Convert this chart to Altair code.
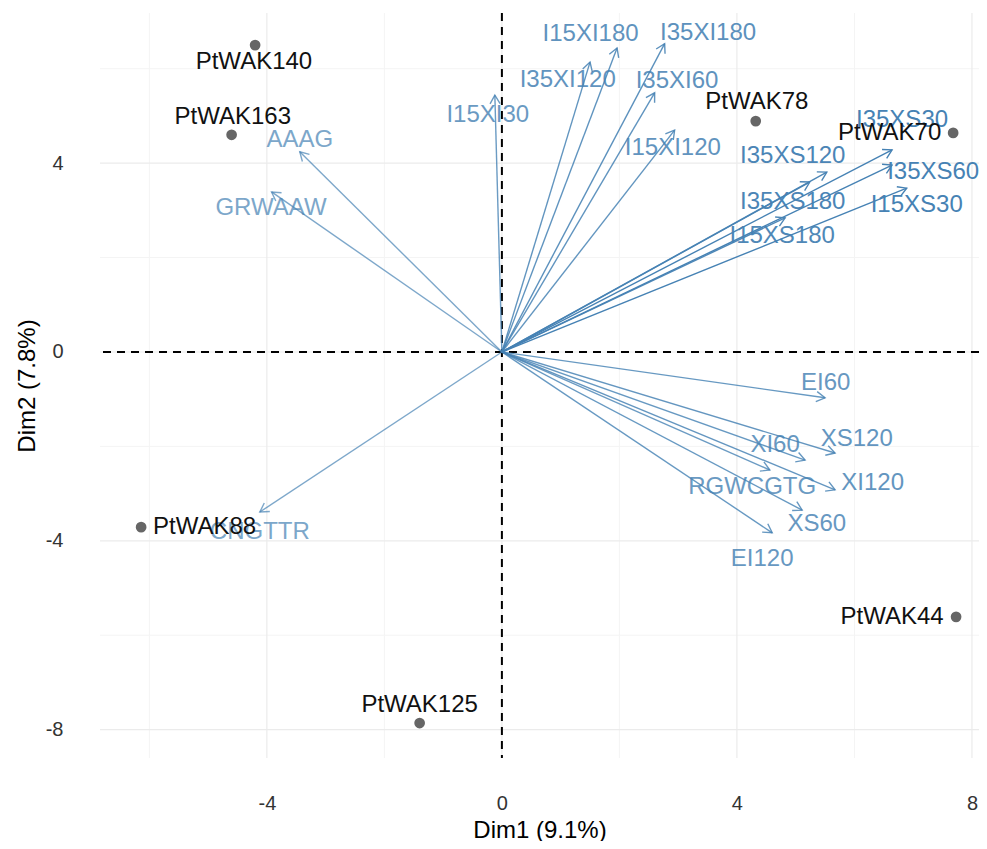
import math
import altair as alt
import pandas as pd

# ---------------- data ----------------
ind_names = ["PtWAK140", "PtWAK163", "PtWAK78", "PtWAK70", "PtWAK88", "PtWAK44", "PtWAK125"]
ind_x = [-4.20, -4.60, 4.32, 7.68, -6.14, 7.73, -1.40]
ind_y = [6.50, 4.60, 4.89, 4.64, -3.71, -5.61, -7.86]
ind_label_x = [-4.22, -4.58, 4.34, 6.60, -5.06, 6.64, -1.40]
ind_label_y = [6.14, 4.98, 5.30, 4.64, -3.71, -5.61, -7.48]

var_names = ["I15XI30", "I15XI180", "I35XI180", "I35XI120", "I35XI60", "I15XI120",
             "I35XS30", "I35XS60", "I35XS120", "I35XS180", "I15XS30", "I15XS180",
             "EI60", "XS120", "XI60", "XI120", "RGWCGTG", "XS60", "EI120",
             "AAAG", "GRWAAW", "CNGTTR"]
var_x = [-0.12, 1.96, 2.77, 1.50, 2.60, 2.94,
         6.64, 6.64, 5.53, 5.24, 6.89, 4.82,
         5.50, 5.67, 5.16, 5.67, 4.56, 5.11, 4.60,
         -3.44, -3.92, -4.12]
var_y = [5.44, 6.44, 6.53, 6.14, 5.49, 4.70,
         4.28, 3.96, 3.81, 3.60, 3.47, 2.84,
         -0.97, -2.14, -2.29, -2.92, -2.50, -3.35, -3.83,
         4.24, 3.39, -3.39]
var_label_x = [-0.24, 1.51, 3.51, 1.12, 2.98, 2.91,
               6.81, 7.34, 4.95, 4.95, 7.06, 4.77,
               5.51, 6.04, 4.65, 6.31, 4.26, 5.36, 4.43,
               -3.44, -3.93, -4.12]
var_label_y = [5.02, 6.74, 6.75, 5.76, 5.75, 4.32,
               4.92, 3.81, 4.15, 3.18, 3.11, 2.46,
               -0.66, -1.84, -1.97, -2.78, -2.86, -3.64, -4.39,
               4.49, 3.05, -3.81]
var_contrib = [0.80, 0.86, 0.88, 0.85, 0.86, 0.85,
               1.00, 1.00, 0.97, 0.97, 1.00, 0.95,
               0.82, 0.84, 0.82, 0.84, 0.80, 0.82, 0.82,
               0.70, 0.70, 0.70]

x_major = [-4, 0, 4, 8]
x_minor = [-6, -2, 2, 6]
y_major = [-8, -4, 0, 4]
y_minor = [-6, -2, 2, 6]

x_title = "Dim1 (9.1%)"
y_title = "Dim2 (7.8%)"

# ---------------- layout ----------------
X_DOMAIN = [-6.84, 8.12]
Y_DOMAIN = [-8.60, 7.18]
W, H = 879, 745
FONT = "Liberation Sans"
BLUE = "#4682B4"

sx = W / (X_DOMAIN[1] - X_DOMAIN[0])
sy = H / (Y_DOMAIN[1] - Y_DOMAIN[0])

ind_df = pd.DataFrame({"name": ind_names, "x": ind_x, "y": ind_y,
                       "lx": ind_label_x, "ly": ind_label_y})
var_df = pd.DataFrame({"name": var_names, "x": var_x, "y": var_y,
                       "lx": var_label_x, "ly": var_label_y, "contrib": var_contrib})
var_df["x0"] = 0.0
var_df["y0"] = 0.0
var_df["angle"] = [
    (math.degrees(math.atan2(-yy * sy, xx * sx)) + 360.0) % 360.0
    for xx, yy in zip(var_x, var_y)
]

xs = alt.Scale(domain=X_DOMAIN, nice=False, zero=False)
ys = alt.Scale(domain=Y_DOMAIN, nice=False, zero=False)

x_axis = alt.Axis(values=x_major, grid=False, ticks=False, domain=False,
                  labelExpr="toString(datum.value)",
                  labelFont=FONT, labelFontSize=20, labelColor="#333333",
                  labelPadding=35, title=x_title, titleFont=FONT, titleFontSize=24,
                  titleFontWeight="normal", titleColor="#000000", titlePadding=5)
y_axis = alt.Axis(values=y_major, grid=False, ticks=False, domain=False,
                  labelExpr="toString(datum.value)",
                  labelFont=FONT, labelFontSize=20, labelColor="#333333",
                  labelPadding=37, title=y_title, titleFont=FONT, titleFontSize=24,
                  titleFontWeight="normal", titleColor="#000000", titlePadding=6)


def X(field):
    return alt.X(field, type="quantitative", scale=xs, axis=x_axis)


def Y(field):
    return alt.Y(field, type="quantitative", scale=ys, axis=y_axis)


vgrid_major = alt.Chart(pd.DataFrame({"v": x_major})).mark_rule(
    color="#EBEBEB", strokeWidth=1.2).encode(x=X("v"))
vgrid_minor = alt.Chart(pd.DataFrame({"v": x_minor})).mark_rule(
    color="#F4F4F4", strokeWidth=1).encode(x=X("v"))
hgrid_major = alt.Chart(pd.DataFrame({"v": y_major})).mark_rule(
    color="#EBEBEB", strokeWidth=1.2).encode(y=Y("v"))
hgrid_minor = alt.Chart(pd.DataFrame({"v": y_minor})).mark_rule(
    color="#F4F4F4", strokeWidth=1).encode(y=Y("v"))

zero_v = alt.Chart(pd.DataFrame({"v": [0]})).mark_rule(
    color="#000000", strokeWidth=2, strokeDash=[8, 6]).encode(x=X("v"))
zero_h = alt.Chart(pd.DataFrame({"v": [0]})).mark_rule(
    color="#000000", strokeWidth=2, strokeDash=[8, 6]).encode(y=Y("v"))

opacity = alt.Opacity("contrib:Q", scale=None, legend=None)

arrows = alt.Chart(var_df).mark_rule(color=BLUE, strokeWidth=1.4).encode(
    x=X("x0"), y=Y("y0"), x2="x:Q", y2="y:Q", opacity=opacity)

CHEVRON = "M -1 -0.58 L 0 0 L -1 0.58"
heads = alt.Chart(var_df).mark_point(
    shape=CHEVRON, filled=False, color=BLUE, strokeWidth=1.4, size=300).encode(
    x=X("x"), y=Y("y"), angle=alt.Angle("angle:Q", scale=None), opacity=opacity)

var_text = alt.Chart(var_df).mark_text(
    font=FONT, fontSize=24, color=BLUE, align="center", baseline="middle").encode(
    x=X("lx"), y=Y("ly"), text="name:N", opacity=opacity)

ind_pts = alt.Chart(ind_df).mark_circle(size=115, color="#666666", opacity=1).encode(
    x=X("x"), y=Y("y"))
ind_text = alt.Chart(ind_df).mark_text(
    font=FONT, fontSize=24, color="#111111", align="center", baseline="middle").encode(
    x=X("lx"), y=Y("ly"), text="name:N")

chart = alt.layer(
    vgrid_minor, hgrid_minor, vgrid_major, hgrid_major,
    zero_v, zero_h, arrows, heads, var_text, ind_pts, ind_text
).properties(
    width=W, height=H,
    padding={"left": 92, "top": 5, "right": 0, "bottom": 83},
    autosize=alt.AutoSizeParams(type="none"),
    background="white",
).configure_view(stroke=None)

chart.save("out.html", embed_options={"renderer": "svg", "actions": False})
